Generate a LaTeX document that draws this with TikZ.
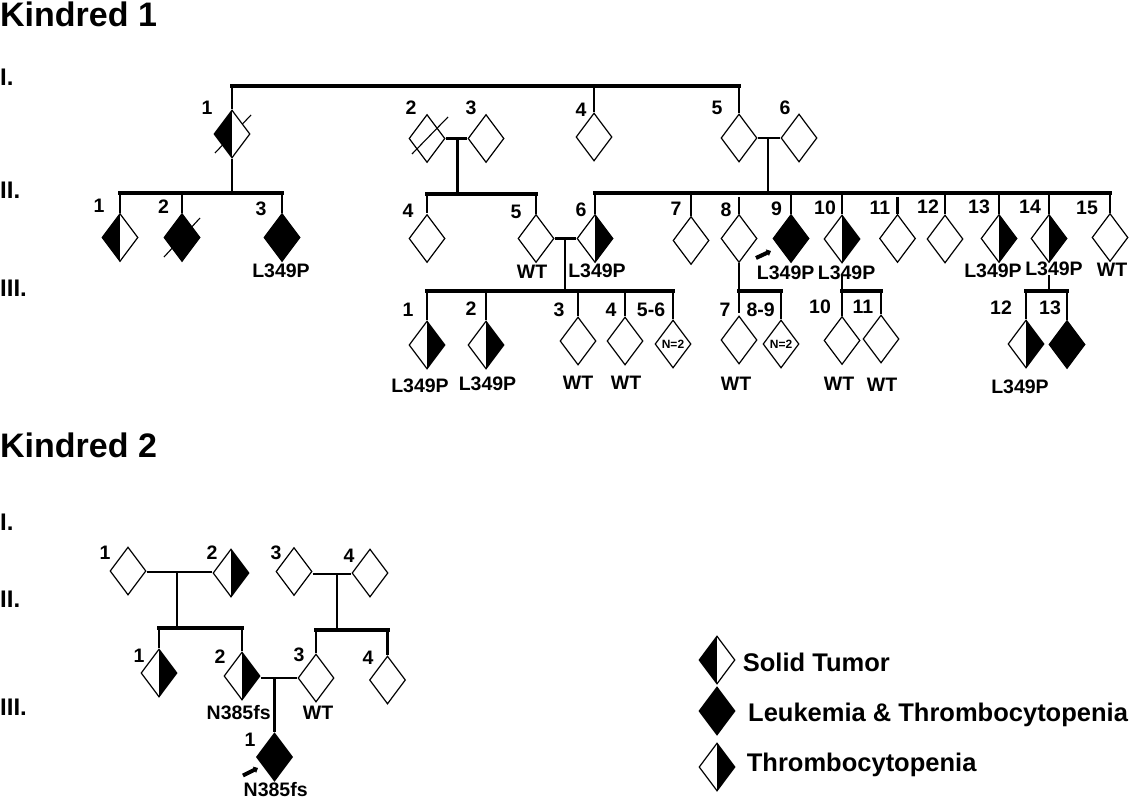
\documentclass[tikz,border=0pt]{standalone}
\usepackage{fontspec}
\setmainfont{Liberation Sans}
\usetikzlibrary{shapes.geometric,arrows.meta}
\tikzset{
  ped/.style={diamond,draw=black,line width=1.2pt,fill=white,inner sep=0pt,minimum width=36pt,minimum height=48pt},
  halfl/.style={path picture={\fill[black] (path picture bounding box.south west) rectangle (path picture bounding box.north);}},
  halfr/.style={path picture={\fill[black] (path picture bounding box.south east) rectangle (path picture bounding box.north);}},
  full/.style={fill=black},
  lab/.style={inner sep=0pt,font=\fontsize{19.5}{19.5}\selectfont\bfseries},
  gen/.style={inner sep=0pt,anchor=west,font=\fontsize{24}{24}\selectfont\bfseries},
  ttl/.style={inner sep=0pt,anchor=west,font=\fontsize{34}{34}\selectfont\bfseries},
  leg/.style={inner sep=0pt,anchor=base west,font=\fontsize{25.5}{25.5}\selectfont\bfseries},
  nsm/.style={inner sep=0pt,font=\fontsize{12}{12}\selectfont\bfseries},
  conn/.style={line width=2.5pt,draw=black},
  bar/.style={line width=4pt,draw=black,line cap=rect},
  midbar/.style={line width=3.2pt,draw=black,line cap=rect},
  mate/.style={line width=2.5pt,draw=black},
  thinmate/.style={line width=2pt,draw=black},
  slash/.style={line width=1.1pt,draw=black},
  pro/.style={line width=4pt,draw=black,-{Triangle[length=4pt,width=7pt]}},
}
\begin{document}
\begin{tikzpicture}[x=1pt,y=-1pt]
\useasboundingbox (0,0) rectangle (1129,800);
% titles and generations
\node[ttl] (t1) at (0,14) {Kindred 1};
\node[ttl] (t2) at (0,445) {Kindred 2};
\node[gen] (g1) at (0,77) {I.};
\node[gen] (g2) at (0,190) {II.};
\node[gen] (g3) at (0,288) {III.};
\node[gen] (h1) at (0,522) {I.};
\node[gen] (h2) at (0,599) {II.};
\node[gen] (h3) at (0,707) {III.};
% bar levels
\coordinate (y1) at (0,86);
\coordinate (y2a) at (0,193);
\coordinate (y2b) at (0,194);
\coordinate (y2c) at (0,193);
\coordinate (y3a) at (0,291);
\coordinate (y3b) at (0,291);
\coordinate (y3c) at (0,291);
\coordinate (y3d) at (0,291);
\coordinate (z1) at (0,628);
\coordinate (z2) at (0,630);
% slash behind I-1
\coordinate (s1a) at (215,153);
\coordinate (s1b) at (251,115);
\draw[slash] (s1a) -- (s1b);
% Kindred 1 generation I
\node[ped,halfl] (a1) at (232,134) {};
\node[ped] (a2) at (427,138.5) {};
\node[ped] (a3) at (486,138.5) {};
\node[ped] (a4) at (594,137) {};
\node[ped] (a5) at (739,138) {};
\node[ped] (a6) at (799,138) {};
% generation II
\node[ped,halfl] (b1) at (120,237.5) {};
\node[ped,full] (b2) at (182,237.5) {};
\node[ped,full] (b3) at (282,237.5) {};
\node[ped] (b4) at (427,238.5) {};
\node[ped] (b5) at (536,238.5) {};
\node[ped,halfr] (b6) at (595,238.5) {};
\node[ped] (b7) at (691,240.5) {};
\node[ped] (b8) at (739,238.5) {};
\node[ped,full] (b9) at (791,238.5) {};
\node[ped,halfr] (b10) at (842,239) {};
\node[ped] (b11) at (897.5,238.5) {};
\node[ped] (b12) at (945,239) {};
\node[ped,halfr] (b13) at (999,238.5) {};
\node[ped,halfr] (b14) at (1049,238.5) {};
\node[ped] (b15) at (1110,237.5) {};
% generation III
\node[ped,halfr] (c1) at (427,345) {};
\node[ped,halfr] (c2) at (486,345) {};
\node[ped] (c3) at (578,341) {};
\node[ped] (c4) at (625,341) {};
\node[ped] (c56) at (673,344) {};
\node[ped] (c7) at (739,340) {};
\node[ped] (c89) at (781,344) {};
\node[ped] (c10) at (842,340.5) {};
\node[ped] (c11) at (881,339) {};
\node[ped,halfr] (c12) at (1026,344) {};
\node[ped,full] (c13) at (1067,344.5) {};
\node[nsm] (n56) at (c56) {N=2};
\node[nsm] (n89) at (c89) {N=2};
% slashes over
\coordinate (s2a) at (412,154);
\coordinate (s2b) at (448,117);
\draw[slash] (s2a) -- (s2b);
\coordinate (s3a) at (164,257);
\coordinate (s3b) at (200,218);
\draw[slash] (s3a) -- (s3b);
% connectors K1
\draw[bar] (a1.north |- y1) -- (a5.north |- y1);
\draw[conn] (a1.north |- y1) -- (a1.north);
\draw[conn] (a4.north |- y1) -- (a4.north);
\draw[conn] (a5.north |- y1) -- (a5.north);
\draw[conn] (a1.south) -- (a1.south |- y2a);
\draw[midbar] (b1.north |- y2a) -- (b3.north |- y2a);
\draw[conn] (b1.north |- y2a) -- (b1.north);
\draw[conn] (b2.north |- y2a) -- (b2.north);
\draw[conn] (b3.north |- y2a) -- (b3.north);
\draw[mate] (a2.east) -- (a3.west);
\coordinate (m23) at (457.5,138.5);
\draw[conn] (m23) -- (m23 |- y2b);
\draw[bar] (b4.north |- y2b) -- (b5.north |- y2b);
\draw[conn] (b4.north |- y2b) -- ([yshift=1pt]b4.north);
\draw[conn] (b5.north |- y2b) -- (b5.north);
\draw[mate] (b5.east) -- (b6.west);
\coordinate (m56) at (565,238.5);
\draw[conn] (m56) -- (m56 |- y3a);
\draw[bar] (c1.north |- y3a) -- (c56.north |- y3a);
\draw[conn] (c1.north |- y3a) -- (c1.north);
\draw[conn] (c2.north |- y3a) -- (c2.north);
\draw[conn] (c3.north |- y3a) -- (c3.north);
\draw[conn] (c4.north |- y3a) -- (c4.north);
\draw[conn] (c56.north |- y3a) -- (c56.north);
\draw[mate] (a5.east) -- (a6.west);
\coordinate (m78) at (768,138);
\draw[conn] (m78) -- (m78 |- y2c);
\draw[midbar] (b6.north |- y2c) -- (b15.north |- y2c);
\draw[conn] (b6.north |- y2c) -- (b6.north);
\draw[conn] (b7.north |- y2c) -- (b7.north);
\draw[conn] ([yshift=17pt]b8.north) -- (b8.north);
\draw[conn] (b9.north |- y2c) -- (b9.north);
\draw[conn] (b10.north |- y2c) -- (b10.north);
\draw[conn] ([yshift=17pt]b11.north) -- (b11.north);
\draw[conn] (b12.north |- y2c) -- (b12.north);
\draw[conn] (b13.north |- y2c) -- (b13.north);
\draw[conn] (b14.north |- y2c) -- (b14.north);
\draw[conn] (b15.north |- y2c) -- (b15.north);
\draw[conn] (b8.south) -- (b8.south |- y3b);
\draw[bar] (c7.north |- y3b) -- (c89.north |- y3b);
\draw[conn] (c7.north |- y3b) -- ([yshift=2pt]c7.north);
\draw[conn] (c89.north |- y3b) -- (c89.north);
\draw[bar] (c10.north |- y3c) -- (c11.north |- y3c);
\draw[conn] (c10.north |- y3c) -- (c10.north);
\draw[conn] (c11.north |- y3c) -- (c11.north);
\draw[midbar] (c12.north |- y3d) -- (c13.north |- y3d);
\draw[conn] (c12.north |- y3d) -- (c12.north);
\draw[conn] (c13.north |- y3d) -- (c13.north);
\draw[conn] ([yshift=-12pt]b10.south) -- (b10.south |- y3c);
\draw[conn] ([yshift=-12pt]b14.south) -- (b14.south |- y3d);
% labels K1
\node[lab] (la1) at (207,108) {1};
\node[lab] (la2) at (411,108) {2};
\node[lab] (la3) at (471,108) {3};
\node[lab] (la4) at (581,110) {4};
\node[lab] (la5) at (717,108) {5};
\node[lab] (la6) at (785,108) {6};
\node[lab] (lb1) at (99,206) {1};
\node[lab] (lb2) at (163.5,207) {2};
\node[lab] (lb3) at (261,209) {3};
\node[lab] (lb4) at (408,211) {4};
\node[lab] (lb5) at (516,212) {5};
\node[lab] (lb6) at (581,210) {6};
\node[lab] (lb7) at (676,209) {7};
\node[lab] (lb8) at (726,210) {8};
\node[lab] (lb9) at (776.6,209) {9};
\node[lab] (lb10) at (825,208) {10};
\node[lab] (lb11) at (880,208) {11};
\node[lab] (lb12) at (928,207) {12};
\node[lab] (lb13) at (979,207) {13};
\node[lab] (lb14) at (1030,207) {14};
\node[lab] (lb15) at (1087,208) {15};
\node[lab] (lc1) at (408,310) {1};
\node[lab] (lc2) at (471,309) {2};
\node[lab] (lc3) at (559,310) {3};
\node[lab] (lc4) at (611,310) {4};
\node[lab] (lc56) at (651,310) {5-6};
\node[lab] (lc7) at (725,310) {7};
\node[lab] (lc89) at (760.6,310) {8-9};
\node[lab] (lc10) at (820,307) {10};
\node[lab] (lc11) at (863,307) {11};
\node[lab] (lc12) at (1001,308) {12};
\node[lab] (lc13) at (1050,308) {13};
\node[lab] (vb3) at (281,271) {L349P};
\node[lab] (vb5) at (532,272) {WT};
\node[lab] (vb6) at (597,270.7) {L349P};
\node[lab] (vb9) at (785.7,273) {L349P};
\node[lab] (vb10) at (846.6,272.7) {L349P};
\node[lab] (vb13) at (993,270.7) {L349P};
\node[lab] (vb14) at (1054,269) {L349P};
\node[lab] (vb15) at (1112,270) {WT};
\node[lab] (vc1) at (420,386) {L349P};
\node[lab] (vc2) at (487.5,384) {L349P};
\node[lab] (vc3) at (578,383) {WT};
\node[lab] (vc4) at (626,383) {WT};
\node[lab] (vc7) at (736,384) {WT};
\node[lab] (vc10) at (839,384) {WT};
\node[lab] (vc11) at (882,385) {WT};
\node[lab] (vc12) at (1020,387) {L349P};
% proband arrow K1
\coordinate (p1a) at (756,258);
\coordinate (p1b) at (771,251);
\draw[pro] (p1a) -- (p1b);
% Kindred 2
\node[ped] (d1) at (128,571) {};
\node[ped,halfr] (d2) at (231,573) {};
\node[ped] (d3) at (294,571.5) {};
\node[ped] (d4) at (370,573) {};
\node[ped,halfr] (e1) at (159,673) {};
\node[ped,halfr] (e2) at (242,676) {};
\node[ped] (e3) at (316,678) {};
\node[ped] (e4) at (387.5,680) {};
\node[ped,full] (f1) at (274.5,757) {};
\coordinate (m12) at (177,572);
\coordinate (m34) at (337,573.5);
\coordinate (m23b) at (274.5,678);
\draw[thinmate] (d1.east |- m12) -- (d2.west |- m12);
\draw[thinmate] (d3.east |- m34) -- (d4.west |- m34);
\draw[conn] (m12) -- (m12 |- z1);
\draw[conn] (m34) -- (m34 |- z2);
\draw[bar] (e1.north |- z1) -- (e2.north |- z1);
\draw[conn] (e1.north |- z1) -- (e1.north);
\draw[conn] (e2.north |- z1) -- (e2.north);
\draw[bar] (e3.north |- z2) -- (e4.north |- z2);
\draw[conn] (e3.north |- z2) -- (e3.north);
\draw[conn] (e4.north |- z2) -- (e4.north);
\draw[thinmate] (e2.east |- m23b) -- (e3.west |- m23b);
\draw[conn] (m23b) -- (f1.north);
\node[lab] (ld1) at (105,553) {1};
\node[lab] (ld2) at (212,553) {2};
\node[lab] (ld3) at (276,553) {3};
\node[lab] (ld4) at (349,556) {4};
\node[lab] (le1) at (139,656) {1};
\node[lab] (le2) at (220,657) {2};
\node[lab] (le3) at (299,655) {3};
\node[lab] (le4) at (368,658) {4};
\node[lab] (lf1) at (250,740) {1};
\node[lab] (ve2) at (238.7,712.7) {N385fs};
\node[lab] (ve3) at (318,712.7) {WT};
\node[lab] (vf1) at (275.7,790) {N385fs};
\coordinate (p2a) at (243,775.5);
\coordinate (p2b) at (258,768);
\draw[pro] (p2a) -- (p2b);
% legend
\node[ped,halfl] (k1) at (717,660) {};
\node[ped,full] (k2) at (717,711) {};
\node[ped,halfr] (k3) at (717,767) {};
\node[leg] (kt1) at (742.7,671.7) {Solid Tumor};
\node[leg] (kt2) at (748,721.7) {Leukemia \& Thrombocytopenia};
\node[leg] (kt3) at (746.7,771.7) {Thrombocytopenia};
\end{tikzpicture}
\end{document}
